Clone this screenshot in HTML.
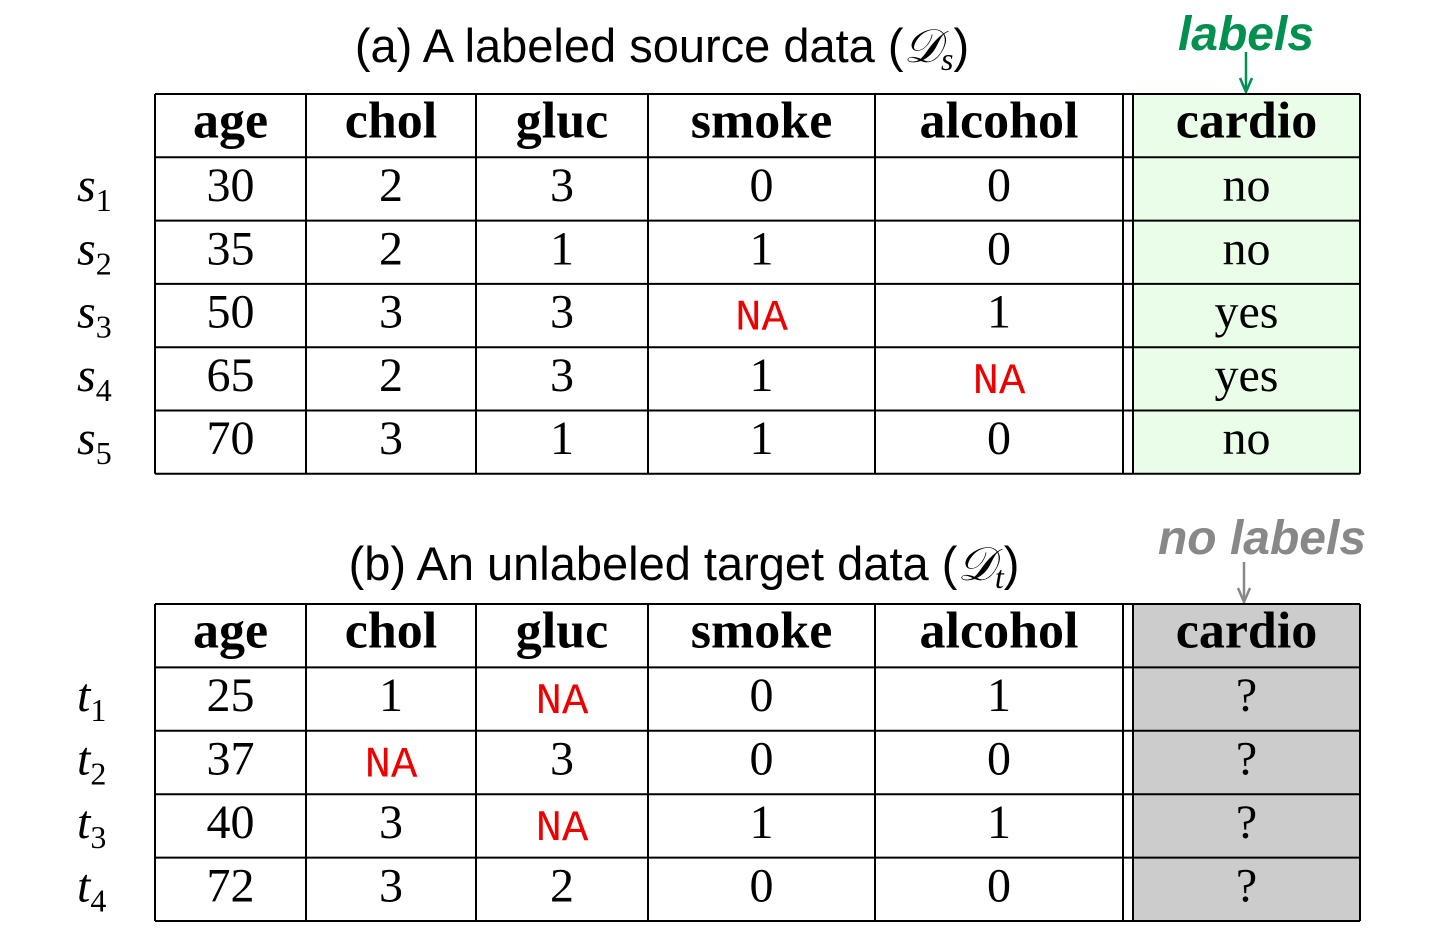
<!DOCTYPE html>
<html><head><meta charset="utf-8"><style>
html,body{margin:0;padding:0;background:#fff;}
svg{display:block;}
.h{font-family:"Liberation Serif",serif;font-weight:bold;font-size:52px;text-anchor:middle;}
.c{font-family:"Liberation Serif",serif;font-size:48px;text-anchor:middle;}
.na{font-family:"Liberation Mono",monospace;font-size:44px;fill:#e00;text-anchor:middle;}
.t{font-family:"Liberation Sans",sans-serif;font-size:47px;text-anchor:middle;}
.r{font-family:"Liberation Serif",serif;font-style:italic;font-size:48px;}
.rs{font-family:"Liberation Serif",serif;font-size:32px;font-style:normal;}
</style></head><body>
<svg id="fig" width="1446" height="952" xmlns="http://www.w3.org/2000/svg">
<text class="t" x="662" y="62">(a) A labeled source data (<tspan font-family="Liberation Serif" font-style="italic">𝒟</tspan><tspan font-family="Liberation Serif" font-style="italic" font-size="32" dy="8">s</tspan><tspan dy="-8">)</tspan></text>
<text x="1246" y="50" font-family="Liberation Sans" font-weight="bold" font-style="italic" font-size="48" fill="#009050" text-anchor="middle">labels</text>
<g stroke="#009050" stroke-width="2.5" fill="none"><line x1="1246" y1="52" x2="1246" y2="91"/><path d="M1240 78 L1246 92 L1252 78"/></g>
<text class="t" x="684" y="580">(b) An unlabeled target data (<tspan font-family="Liberation Serif" font-style="italic">𝒟</tspan><tspan font-family="Liberation Serif" font-style="italic" font-size="32" dy="8">t</tspan><tspan dy="-8">)</tspan></text>
<text x="1262" y="554" font-family="Liberation Sans" font-weight="bold" font-style="italic" font-size="48" fill="#888" text-anchor="middle">no labels</text>
<g stroke="#888" stroke-width="2.5" fill="none"><line x1="1244" y1="562" x2="1244" y2="601"/><path d="M1238 588 L1244 602 L1250 588"/></g>
<g id="tables"></g>
</svg>
<script>
const headers=["age","chol","gluc","smoke","alcohol","cardio"];
const srcRows=[["30","2","3","0","0","no"],["35","2","1","1","0","no"],["50","3","3","NA","1","yes"],["65","2","3","1","NA","yes"],["70","3","1","1","0","no"]];
const tgtRows=[["25","1","NA","0","1","?"],["37","NA","3","0","0","?"],["40","3","NA","1","1","?"],["72","3","2","0","0","?"]];
const colX=[155,306,476,648,875,1123,1360];
const NS="http://www.w3.org/2000/svg";
const G=document.getElementById('tables');
function mk(tag,attrs,parent){const e=document.createElementNS(NS,tag);for(const k in attrs)e.setAttribute(k,attrs[k]);parent.appendChild(e);return e;}
function table(top,rowH,rows,prefix,fill,name){
  const g=mk('g',{},G);
  
  
  const n=rows.length+1, bottom=top+rowH*n;
  const bg=mk('rect',{x:1134,y:top,width:226,height:bottom-top,fill:fill},g);
  
  
  for(let i=0;i<=n;i++){const y=top+rowH*i;mk('line',{x1:155,x2:1360,y1:y,y2:y,stroke:'#000','stroke-width':2},g);}
  [155,306,476,648,875,1123,1133,1360].forEach(x=>mk('line',{x1:x,x2:x,y1:top,y2:bottom,stroke:'#000','stroke-width':2},g));
  const cx=i=>i<5?(colX[i]+colX[i+1])/2:(1133+1360)/2;
  headers.forEach((h,i)=>{const t=mk('text',{class:'h',x:cx(i),y:top+rowH/2+12},g);t.textContent=h;
    
    });
  rows.forEach((r,ri)=>{
    const y=top+rowH*(ri+1)+rowH/2+12;
    const lab=mk('text',{class:'r',x:77,y:y},g);
    
    
    lab.textContent=prefix;
    const sub=mk('tspan',{class:'rs',dy:10},lab);sub.textContent=String(ri+1);
    r.forEach((v,i)=>{const t=mk('text',{class:v==='NA'?'na':'c',x:cx(i),y:v==='NA'?y+2:y},g);t.textContent=v;
      
      });
  });
}
table(94,63.3,srcRows,'s','#e9fde9','source-table');
table(604,63.4,tgtRows,'t','#cccccc','target-table');
</script>
</body></html>
